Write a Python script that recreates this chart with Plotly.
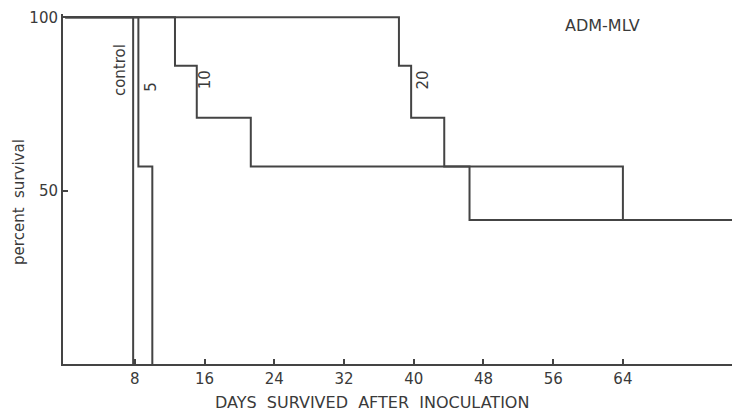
import plotly.graph_objects as go

# Kaplan-Meier style survival steps (days after inoculation, percent surviving)
control_days = [0, 7.8]
control_pct = [100, 0]

dose5_days = [0, 8.4, 10.0]
dose5_pct = [100, 57, 0]

dose10_days = [0, 12.6, 15.1, 21.3, 46.4, 77]
dose10_pct = [100, 86, 71, 57, 41.5, 41.5]

dose20_days = [0, 38.3, 39.7, 43.5, 64.0, 77]
dose20_pct = [100, 86, 71, 57, 41.5, 41.5]

x_ticks = [8, 16, 24, 32, 40, 48, 56, 64]
y_ticks = [50, 100]

# curve labels: text, day, percent
curve_labels = [("control", 6.3, 84.8), ("5", 9.85, 80.0), ("10", 16.0, 82.0), ("20", 41.05, 82.0)]

INK = "#3a3a3a"
LINE = "#444444"
FONT = "DejaVu Sans"

fig = go.Figure()
for days, pct in [(control_days, control_pct), (dose5_days, dose5_pct),
                  (dose10_days, dose10_pct), (dose20_days, dose20_pct)]:
    fig.add_trace(go.Scatter(x=days, y=pct, mode="lines", line_shape="hv",
                             line=dict(color=LINE, width=2), showlegend=False,
                             hoverinfo="skip"))

for text, d, p in curve_labels:
    fig.add_annotation(x=d, y=p, text=text, showarrow=False, textangle=-90,
                       font=dict(family=FONT, size=15, color=INK))

fig.add_annotation(x=61.7, y=97.5, text="ADM-MLV", showarrow=False,
                   font=dict(family=FONT, size=16, color=INK))

# axis titles placed as paper-referenced annotations
fig.add_annotation(xref="paper", yref="paper", x=0.462, y=-0.1086,
                   xanchor="center", yanchor="middle",
                   text="DAYS  SURVIVED  AFTER  INOCULATION", showarrow=False,
                   font=dict(family=FONT, size=16, color=INK))
fig.add_annotation(xref="paper", yref="paper", x=-0.0658, y=0.463,
                   xanchor="center", yanchor="middle",
                   text="percent  survival", showarrow=False, textangle=-90,
                   font=dict(family=FONT, size=15, color=INK))

fig.update_layout(
    width=732, height=411,
    margin=dict(l=63, r=0, t=14, b=47),
    paper_bgcolor="white", plot_bgcolor="white",
    font=dict(family=FONT, size=15, color=INK),
    xaxis=dict(range=[-0.25, 76.52], tickvals=x_ticks, ticks="inside", ticklen=5,
               tickcolor=LINE, tickwidth=1.5, showgrid=False, zeroline=False,
               showline=True, linecolor=LINE, linewidth=2),
    yaxis=dict(range=[0, 100.95], tickvals=y_ticks, ticks="inside", ticklen=5,
               tickcolor=LINE, tickwidth=1.5, showgrid=False, zeroline=False,
               showline=True, linecolor=LINE, linewidth=2),
)

fig.write_html("out.html")
